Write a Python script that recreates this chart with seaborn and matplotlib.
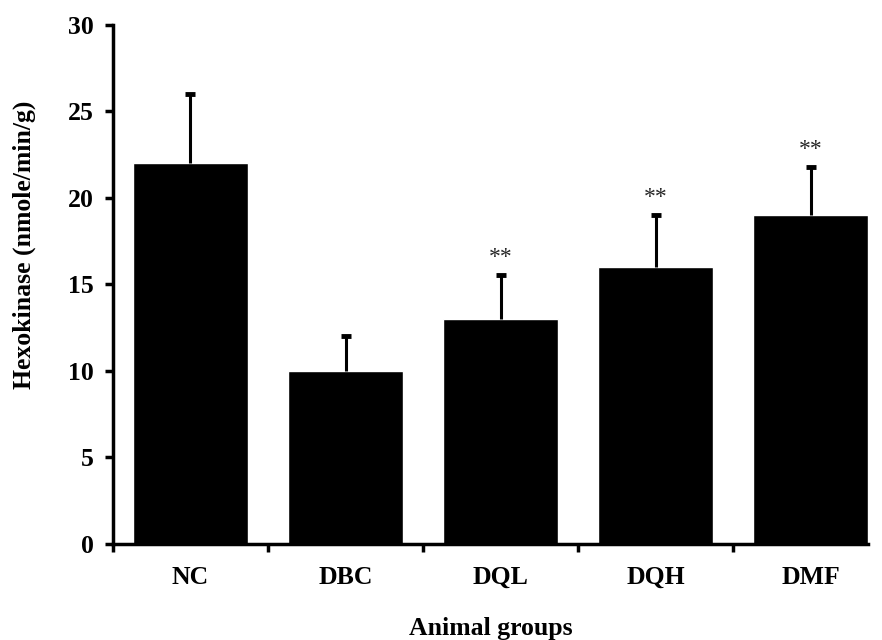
"""Hexokinase activity per animal group - bar chart with SD bars."""

import matplotlib

matplotlib.use("Agg")
import matplotlib.pyplot as plt
import numpy as np
import pandas as pd
import seaborn as sns

# --- data ---
groups = ["NC", "DBC", "DQL", "DQH", "DMF"]
hexokinase = [22.0, 10.0, 13.0, 16.0, 19.0]
sd_upper = [4.0, 2.0, 2.55, 3.0, 2.8]
signif = ["", "", "**", "**", "**"]

df = pd.DataFrame({"group": groups, "value": hexokinase})

sns.set_style("ticks")
plt.rcParams["font.family"] = ["Liberation Serif", "DejaVu Serif"]

fig = plt.figure(figsize=(8.82, 6.4), dpi=100)
ax = fig.add_axes([0.1281, 0.15, 0.856, 0.811])

sns.barplot(data=df, x="group", y="value", color="black", width=0.74,
            errorbar=None, saturation=1, ax=ax)

# upper-only error bars (hide the cap sitting on the bar top)
x = np.arange(len(groups))
_, caps, _ = ax.errorbar(x, hexokinase,
                         yerr=[np.zeros(len(sd_upper)), sd_upper],
                         fmt="none", ecolor="black", elinewidth=2.2,
                         capsize=3.5, capthick=3.5)
for c in caps:
    if np.allclose(c.get_ydata(), hexokinase):
        c.set_visible(False)

# significance stars
for xi, v, e, s in zip(x, hexokinase, sd_upper, signif):
    if s:
        ax.text(xi, v + e + 0.4, s, ha="center", va="bottom",
                fontsize=17, fontweight="normal")

ax.set_ylim(0, 30)
ax.set_yticks(range(0, 31, 5))
ax.set_xlim(-0.5, 4.37)
ax.set_xticks(np.arange(-0.5, 4.0, 1.0))
ax.set_xticklabels([])
ax.set_xticks(x, minor=True)
ax.set_xticklabels(groups, minor=True)
ax.tick_params(axis="x", which="minor", length=0, pad=16)
ax.tick_params(axis="x", which="major", direction="out", length=6, width=2.5,
               color="black")
ax.tick_params(axis="y", direction="out", length=6, width=2.5, pad=8,
               color="black")

for lab in ax.get_xticklabels(minor=True) + ax.get_yticklabels():
    lab.set_fontsize(18.5)
    lab.set_fontweight("bold")
    lab.set_color("black")

ax.set_xlabel("Animal groups", fontsize=18.5, fontweight="bold",
              color="black", labelpad=20)
ax.set_ylabel("Hexokinase (nmole/min/g)", fontsize=18.5, fontweight="bold",
              color="black", labelpad=23)
ax.yaxis.label.set_y(0.576)  # label sits above the axis centre in the original

sns.despine(ax=ax)
for side in ["left", "bottom"]:
    ax.spines[side].set_linewidth(2.5)
    ax.spines[side].set_color("black")

fig.savefig("out.png", dpi=100)
